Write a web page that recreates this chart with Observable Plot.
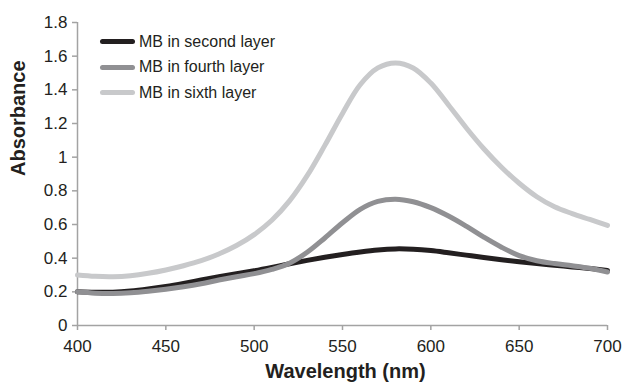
<!DOCTYPE html>
<html>
<head>
<meta charset="utf-8">
<script src="https://cdn.jsdelivr.net/npm/d3@7"></script>
<script src="https://cdn.jsdelivr.net/npm/@observablehq/plot@0.6"></script>
<style>
  body { margin: 0; background: #fff; }
  #wrap { position: relative; width: 625px; height: 388px; font-family: "Liberation Sans", Arial, sans-serif; }
  #legend { position: absolute; left: 100px; top: 29px; font-size: 16px; color: #231f20; }
  .row { display: flex; align-items: center; height: 25.5px; }
  .sw { width: 35px; height: 5px; border-radius: 3px; margin-right: 4px; }
</style>
</head>
<body>
<div id="wrap"></div>
<script>
const wavelengths = [400,410,420,430,440,450,460,470,480,490,500,510,520,530,540,550,560,570,580,590,600,610,620,630,640,650,660,670,680,690,700];
const secondLayer = [0.200,0.197,0.198,0.205,0.217,0.232,0.250,0.270,0.290,0.308,0.325,0.345,0.367,0.387,0.405,0.422,0.437,0.449,0.455,0.453,0.445,0.432,0.418,0.404,0.391,0.379,0.368,0.358,0.348,0.338,0.327];
const fourthLayer = [0.200,0.192,0.190,0.194,0.203,0.215,0.230,0.248,0.270,0.290,0.308,0.333,0.370,0.435,0.520,0.610,0.690,0.737,0.750,0.735,0.700,0.650,0.590,0.525,0.465,0.415,0.385,0.368,0.355,0.340,0.318];
const sixthLayer  = [0.300,0.292,0.290,0.296,0.310,0.330,0.355,0.385,0.425,0.475,0.540,0.625,0.740,0.890,1.070,1.260,1.430,1.530,1.560,1.530,1.440,1.310,1.175,1.050,0.940,0.845,0.765,0.705,0.665,0.630,0.595];
const seriesNames = ["MB in second layer", "MB in fourth layer", "MB in sixth layer"];
const seriesColors = ["#231f20", "#909093", "#c8c9cb"];
const xTicks = [400,450,500,550,600,650,700];
const yTicks = [0,0.2,0.4,0.6,0.8,1,1.2,1.4,1.6,1.8];
const yTickLabels = ["0","0.2","0.4","0.6","0.8","1","1.2","1.4","1.6","1.8"];

const seriesValues = [secondLayer, fourthLayer, sixthLayer];
const rows = [];
seriesNames.forEach((name, s) => {
  wavelengths.forEach((w, i) => rows.push({series: name, x: w, y: seriesValues[s][i]}));
});

const axisColor = "#a3a3a3";
const chart = Plot.plot({
  width: 625,
  height: 388,
  marginLeft: 77,
  marginRight: 18,
  marginTop: 22,
  marginBottom: 63,
  style: {fontFamily: "'Liberation Sans', Arial, sans-serif", color: "#231f20", background: "#fff"},
  x: {domain: [400, 700]},
  y: {domain: [0, 1.8]},
  color: {domain: seriesNames, range: seriesColors},
  marks: [
    Plot.axisX({ticks: xTicks, tickSize: 5, tickPadding: 9, fontSize: 17, stroke: axisColor, strokeWidth: 1.5, label: null, tickFormat: d => String(d)}),
    Plot.axisY({ticks: yTicks, tickSize: 5, tickPadding: 5, fontSize: 17, stroke: axisColor, strokeWidth: 1.5, label: null, tickFormat: d => yTickLabels[yTicks.indexOf(d)]}),
    Plot.ruleY([0], {stroke: axisColor, strokeWidth: 1.5}),
    Plot.ruleX([400], {stroke: axisColor, strokeWidth: 1.5}),
    Plot.line(rows, {x: "x", y: "y", z: "series", stroke: "series", strokeWidth: 5, curve: "catmull-rom", strokeLinecap: "round"}),
    Plot.text(["Absorbance"], {frameAnchor: "left", rotate: -90, dx: -59, dy: 2, fontSize: 20, fontWeight: "bold", fill: "#231f20"}),
    Plot.text(["Wavelength (nm)"], {frameAnchor: "bottom", dy: 52, dx: 3, fontSize: 20, fontWeight: "bold", fill: "#231f20", letterSpacing: "0.5px"})
  ]
});
const wrap = document.getElementById("wrap");
wrap.appendChild(chart);

const legend = document.createElement("div");
legend.id = "legend";
seriesNames.forEach((name, i) => {
  const row = document.createElement("div");
  row.className = "row";
  const sw = document.createElement("div");
  sw.className = "sw";
  sw.style.background = seriesColors[i];
  const t = document.createElement("span");
  t.textContent = name;
  row.appendChild(sw);
  row.appendChild(t);
  legend.appendChild(row);
});
wrap.appendChild(legend);
</script>
</body>
</html>
